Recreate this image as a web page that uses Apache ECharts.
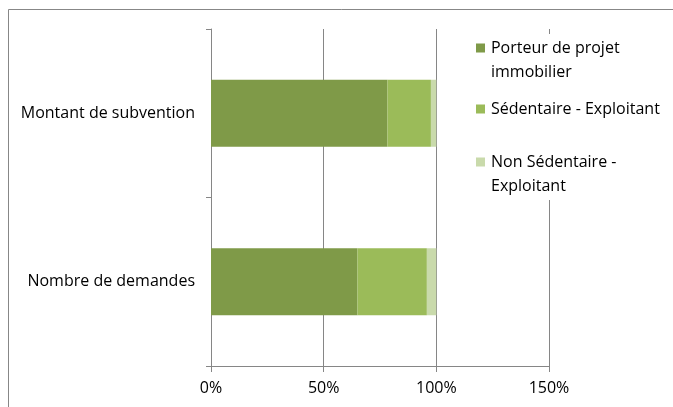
<!DOCTYPE html>
<html>
<head>
<meta charset="utf-8">
<script src="https://cdn.jsdelivr.net/npm/echarts@6/dist/echarts.min.js"></script>
<style>
  html, body { margin: 0; padding: 0; background: #fff; }
  #chart { width: 673px; height: 407px; }
</style>
</head>
<body>
<div id="chart"></div>
<script>
// Categories, bottom to top on the vertical axis
const categories = ['Nombre de demandes', 'Montant de subvention'];

// Shares per category (percent), same order as categories
const porteurProjet = [65.0, 78.3];
const sedentaire = [30.8, 19.3];
const nonSedentaire = [4.2, 2.4];

const seriesNames = ['Porteur de projet\nimmobilier', 'Sédentaire - Exploitant', 'Non Sédentaire -\nExploitant'];
const seriesColors = ['#7F9A48', '#9BBB59', '#C9DAAB'];
const xTicks = [0, 50, 100, 150];

const FONT = 'Open Sans';
const chart = echarts.init(document.getElementById('chart'));

const seriesData = [porteurProjet, sedentaire, nonSedentaire];
const legendTops = [31, 92, 145];
const lineCounts = seriesNames.map(n => n.split('\n').length);

// Square marker pinned to the first text line: a 9x9 square plus a
// near-invisible speck that stretches the symbol box to the text height.
function markerFor(lines) {
  if (lines === 1) return 'rect';
  return 'path://M0,0h9v9h-9z M0,33h0.01v0.01h-0.01z';
}

chart.setOption({
  animation: false,
  textStyle: { fontFamily: FONT },
  grid: { left: 211, right: 124, top: 29, bottom: 41, containLabel: false },
  graphic: [
    {
      type: 'rect', z: -10, silent: true,
      shape: { x: 8.5, y: 9.5, width: 700, height: 420 },
      style: { fill: '#fff', stroke: '#878787', lineWidth: 1 }
    },
    {
      type: 'rect', z: 1, silent: true,
      shape: { x: 468, y: 34, width: 200, height: 166 },
      style: { fill: '#fff' }
    }
  ],
  legend: seriesNames.map((name, i) => ({
    data: [name],
    left: 471,
    top: legendTops[i],
    orient: 'vertical',
    icon: markerFor(lineCounts[i]),
    itemWidth: 9,
    itemHeight: lineCounts[i] === 1 ? 9 : 33,
    itemGap: 0,
    padding: 5,
    z: 5,
    textStyle: { fontFamily: FONT, fontSize: 16, color: '#000', lineHeight: 24, padding: [0, 0, 0, 1] },
    selectedMode: false
  })),
  xAxis: {
    type: 'value',
    min: 0,
    max: 150,
    interval: 50,
    axisLine: { show: true, lineStyle: { color: '#868686' } },
    axisTick: { show: true, length: 6, lineStyle: { color: '#868686' } },
    splitLine: { show: true, lineStyle: { color: '#868686' } },
    axisLabel: {
      formatter: v => xTicks.includes(v) ? v + '%' : '',
      fontFamily: FONT, fontSize: 16, color: '#000', margin: 14
    }
  },
  yAxis: {
    type: 'category',
    data: categories,
    axisLine: { show: true, lineStyle: { color: '#868686' } },
    axisTick: { show: true, length: 5, lineStyle: { color: '#868686' } },
    splitLine: { show: false },
    axisLabel: { fontFamily: FONT, fontSize: 16, color: '#000', margin: 16 }
  },
  series: seriesNames.map((name, i) => ({
    name: name,
    type: 'bar',
    stack: 'total',
    barWidth: 67,
    itemStyle: { color: seriesColors[i] },
    data: seriesData[i]
  }))
});
</script>
</body>
</html>
